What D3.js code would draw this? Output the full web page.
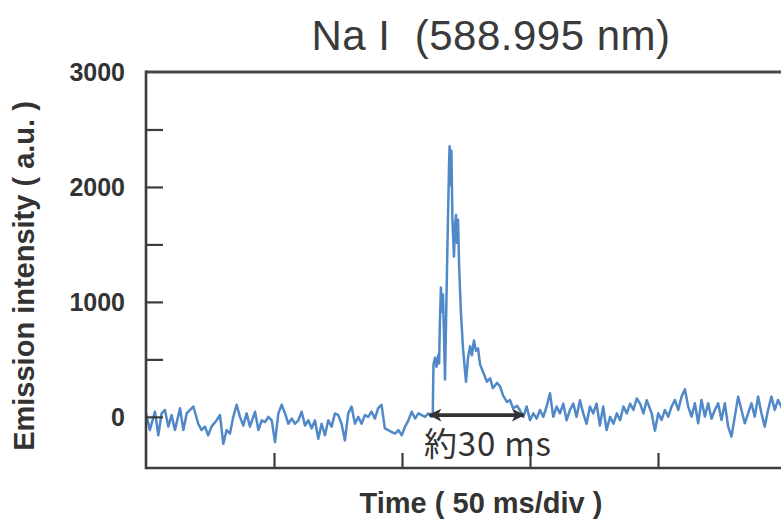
<!DOCTYPE html>
<html>
<head>
<meta charset="utf-8">
<script src="https://cdn.jsdelivr.net/npm/d3@7/dist/d3.min.js"></script>
<style>
  html, body { margin: 0; padding: 0; background: #fff; }
  svg { display: block; }
</style>
</head>
<body>
<div id="chart"></div>
<script>
// ---------------- data ----------------
const chartTitle = "Na I\u00a0\u00a0(588.995 nm)";
const yAxisTitle = "Emission intensity ( a.u. )";
const xAxisTitle = "Time ( 50 ms/div )";
const annotationText = "約30 ms";

// time in ms (x axis: 50 ms per division), intensity in a.u.
const traceTime = [
  0, 1.5, 3.5, 4.8, 6.1, 7.4, 8.7, 10.0, 11.3, 13.3,
  14.6, 15.9, 17.2, 18.5, 20.4, 21.7, 23.0, 24.3, 25.6, 27.6,
  28.9, 30.2, 31.5, 32.8, 34.1, 35.4, 36.7, 38.0, 39.3, 40.6,
  42.6, 43.9, 45.2, 46.5, 47.8,
  49.1, 50.4, 51.7, 53.0, 54.3, 55.6, 56.9, 58.2, 59.5, 60.8,
  62.1, 63.4, 64.7, 66.0, 67.3, 68.6, 69.9, 71.2, 72.5, 73.8,
  75.1, 76.4, 77.7, 79.0, 80.3, 81.6, 82.9, 84.2, 85.5, 86.8,
  88.1, 89.4, 90.7, 92.0, 93.3, 94.6, 95.9,
  97.3, 98.6, 99.9, 101.2, 102.5, 103.8, 105.1, 106.4, 107.7, 109.0,
  110.3, 111.6, 112.0,
  112.3, 112.9, 113.5, 114.1, 114.5, 114.8, 115.2, 115.6, 116.0, 116.4,
  116.8, 117.6, 118.4, 118.6, 119.0, 119.3, 119.7, 120.3, 120.7, 121.1,
  121.5, 121.9, 122.3, 123.0, 123.8, 125.0, 125.8, 126.6, 127.3, 128.1,
  128.9, 129.7, 130.5, 131.6, 133.2, 134.4, 135.5, 137.1, 138.3, 139.5,
  141.0, 142.2, 143.4, 145.0, 146.1,
  147.4, 148.7, 150.0, 151.3, 152.6, 153.9, 155.2, 156.5, 157.8, 159.1,
  160.4, 161.7, 163.0, 164.3, 165.6, 166.9, 168.2, 169.5, 170.8, 172.1,
  173.4, 174.7, 176.0, 177.3, 178.6, 179.9, 181.3, 182.6, 183.9, 185.2,
  186.5, 187.8, 189.1, 190.4, 191.7, 193.0, 194.3, 195.6,
  197.5, 198.8, 200.1, 201.4, 202.7, 204.0, 205.3, 206.6, 207.9, 209.2,
  210.5, 211.8, 213.1, 214.4, 215.7, 217.0, 218.3, 219.6, 220.9, 222.2,
  223.5, 224.8, 226.1, 227.4, 228.7, 230.0, 231.3, 232.6, 233.9, 235.2,
  236.5, 237.8, 239.1, 240.4, 241.7, 243.0, 244.3, 245.6, 246.9, 248.5
];
const traceIntensity = [
  30, -115, 45, -160, 30, 60, -85, 15, -115, 75,
  -115, 30, 60, 90, -60, -115, -85, -160, -85, -30,
  15, -235, -115, -145, 0, 105, 0, -75, 30, -85,
  45, -115, -30, -45, 0,
  -30, -220, 30, 105, 30, -60, -15, -60, -30, 45,
  -75, -30, -100, -30, -190, -60, -160, -30, -85, 30,
  15, -60, -205, 30, 90, -60, 0, -60, 15, 0,
  45, -15, 75, 105, -100, -115, -130,
  -145, -115, -160, -85, -30, 45, -15, 30, 15, 0,
  30, 0, 15,
  455, 515, 435, 535, 465, 815, 1125, 915, 1065, 715,
  325, 1315, 2215, 2355, 2015, 2315, 1715, 1395, 1665, 1755,
  1515, 1715, 1315, 915, 605, 305, 515, 615, 535, 665,
  575, 595, 455, 395, 305, 335, 250, 295, 265, 185,
  130, 145, 75, 95, 55,
  0, 90, -30, 30, -15, 60, 0, 90, 205, 0,
  90, 30, 115, -30, 60, 115, 0, 145, 30, -60,
  90, 30, 115, -75, 90, -115, 0, -60, 30, -30,
  90, 30, 115, 60, 160, 115, 30, 145,
  31, -120, 31, -27, 60, 2, 89, 147, 60, 176,
  240, 89, 2, 118, -56, 147, 2, 118, -16, 60,
  118, -27, 118, -85, -172, 2, 176, 60, -56, 31,
  118, 2, 176, 31, -85, 60, 176, 60, 147, 70
];

const yTickValues = [0, 500, 1000, 1500, 2000, 2500];
const yLabelValues = [0, 1000, 2000, 3000];
const xTickValues = [50, 100, 150, 200];
const xDomain = [0, 250];
const yDomain = [-445, 3000];
// duration arrow (ms) drawn at baseline intensity
const arrowTimes = [110.8, 147.5];
const arrowLevel = 15;

// ---------------- layout ----------------
const W = 781, H = 519;
const mLeft = 146, mRight = 786, mTop = 72, mBottom = 468;

const svg = d3.select("#chart").append("svg")
  .attr("width", W).attr("height", H)
  .attr("viewBox", `0 0 ${W} ${H}`);

const x = d3.scaleLinear().domain(xDomain).range([mLeft, mRight]);
const y = d3.scaleLinear().domain(yDomain).range([mBottom, mTop]);

const frameColor = "#3d3d3d";
const textColor = "#333";
const defs = svg.append("defs");

// title
svg.append("text")
  .attr("x", 491).attr("y", 50)
  .attr("text-anchor", "middle")
  .style("white-space", "pre")
  .attr("font-family", "'Liberation Sans', Arial, Helvetica, sans-serif")
  .attr("font-size", 42)
  .attr("letter-spacing", 0.5)
  .attr("fill", "#3a3a3a")
  .text(chartTitle);

// trace
const traceData = traceTime.map((t, i) => ({ t, v: traceIntensity[i] }));
defs.append("clipPath").attr("id", "plotclip")
  .append("rect").attr("x", mLeft).attr("y", mTop).attr("width", mRight - mLeft).attr("height", mBottom - mTop);

svg.append("path")
  .datum(traceData)
  .attr("clip-path", "url(#plotclip)")
  .attr("fill", "none")
  .attr("stroke", "#5088c8")
  .attr("stroke-width", 2.5)
  .attr("stroke-linejoin", "round")
  .attr("d", d3.line().x(d => x(d.t)).y(d => y(d.v)));

// y axis (ticks inside the frame)
const yAxis = d3.axisRight(y).tickValues(yTickValues).tickSize(17).tickFormat("");
const gy = svg.append("g").attr("transform", `translate(${mLeft},0)`).call(yAxis);
gy.select(".domain").remove();
gy.selectAll(".tick line").attr("stroke", frameColor).attr("stroke-width", 2.2);

// x axis (ticks upward inside the frame)
const xAxis = d3.axisTop(x).tickValues(xTickValues).tickSize(15).tickFormat("");
const gx = svg.append("g").attr("transform", `translate(0,${mBottom})`).call(xAxis);
gx.select(".domain").remove();
gx.selectAll(".tick line").attr("stroke", frameColor).attr("stroke-width", 2.2);

// frame: top, left, bottom
svg.append("line").attr("x1", mLeft).attr("x2", W).attr("y1", mTop).attr("y2", mTop)
  .attr("stroke", "#4a4a4a").attr("stroke-width", 3);
svg.append("line").attr("x1", mLeft).attr("x2", mLeft).attr("y1", mTop - 1.5).attr("y2", mBottom + 1.3)
  .attr("stroke", frameColor).attr("stroke-width", 2.6);
svg.append("line").attr("x1", mLeft).attr("x2", W).attr("y1", mBottom).attr("y2", mBottom)
  .attr("stroke", frameColor).attr("stroke-width", 2.6);

// y tick labels
svg.append("g").selectAll("text")
  .data(yLabelValues).join("text")
  .attr("x", 125).attr("y", d => y(d))
  .attr("dy", "0.36em")
  .attr("text-anchor", "end")
  .attr("font-family", "'Liberation Sans', Arial, Helvetica, sans-serif")
  .attr("font-weight", "bold")
  .attr("font-size", 25)
  .attr("fill", textColor)
  .text(d => d);

// axis titles
svg.append("text")
  .attr("transform", `translate(34,276) rotate(-90)`)
  .attr("text-anchor", "middle")
  .attr("font-family", "'Liberation Sans', Arial, Helvetica, sans-serif")
  .attr("font-weight", "bold")
  .attr("font-size", 29)
  .attr("fill", textColor)
  .text(yAxisTitle);

svg.append("text")
  .attr("x", 481).attr("y", 513)
  .attr("text-anchor", "middle")
  .attr("font-family", "'Liberation Sans', Arial, Helvetica, sans-serif")
  .attr("font-weight", "bold")
  .attr("font-size", 29)
  .attr("fill", textColor)
  .text(xAxisTitle);

// duration arrow
["start", "end"].forEach(k => {
  defs.append("marker")
    .attr("id", "arrow-" + k)
    .attr("viewBox", "0 0 10 10")
    .attr("refX", 9).attr("refY", 5)
    .attr("markerWidth", 4).attr("markerHeight", 3.6)
    .attr("markerUnits", "strokeWidth")
    .attr("orient", k === "start" ? "auto-start-reverse" : "auto")
    .append("path").attr("d", "M0,0 L10,5 L0,10 L2.5,5 z").attr("fill", "#333");
});
svg.append("line")
  .attr("x1", x(arrowTimes[0])).attr("x2", x(arrowTimes[1]))
  .attr("y1", y(arrowLevel)).attr("y2", y(arrowLevel))
  .attr("stroke", "#333").attr("stroke-width", 3.6)
  .attr("marker-start", "url(#arrow-start)")
  .attr("marker-end", "url(#arrow-end)");

svg.append("text")
  .attr("x", 424).attr("y", 456)
  .attr("font-family", "'Noto Sans CJK JP', 'Noto Sans', sans-serif")
  .attr("font-size", 33)
  .attr("letter-spacing", 0.8)
  .attr("fill", textColor)
  .text(annotationText);
</script>
</body>
</html>
